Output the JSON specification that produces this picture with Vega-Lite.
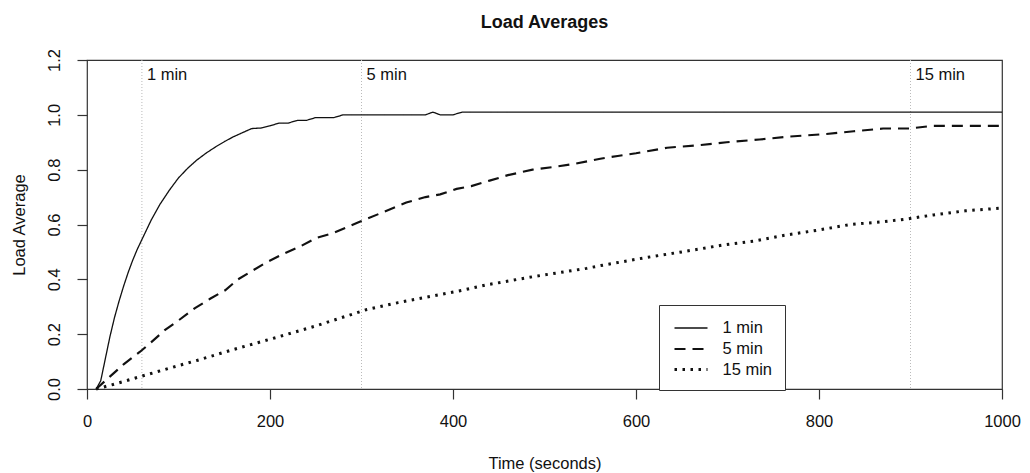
{
  "$schema": "https://vega.github.io/schema/vega-lite/v6.json",
  "width": 915,
  "height": 329,
  "autosize": {"type": "none"},
  "padding": {"left": 87, "top": 60, "right": 28, "bottom": 84},
  "background": "white",
  "config": {
    "font": "Liberation Sans",
    "view": {"stroke": "#333", "strokeWidth": 1.2},
    "axis": {"grid": false, "labelFont": "Liberation Sans", "titleFont": "Liberation Sans", "labelFontSize": 16.5, "titleFontSize": 16.5, "labelColor": "#111", "titleColor": "#111", "titleFontWeight": "normal", "tickColor": "#333", "tickSize": 10, "tickWidth": 1.2, "domain": false}
  },
  "title": {"text": "Load Averages", "fontSize": 18, "fontWeight": "bold", "anchor": "middle", "frame": "group", "offset": 17, "color": "#111", "font": "Liberation Sans"},
  "datasets": {
    "load": [
      {"t": 10, "v": 0, "s": "1 min"}, {"t": 15, "v": 0.03, "s": "1 min"}, {"t": 20, "v": 0.11, "s": "1 min"}, {"t": 25, "v": 0.19, "s": "1 min"}, {"t": 30, "v": 0.26, "s": "1 min"}, {"t": 35, "v": 0.32, "s": "1 min"}, {"t": 40, "v": 0.375, "s": "1 min"}, {"t": 45, "v": 0.425, "s": "1 min"}, {"t": 50, "v": 0.47, "s": "1 min"}, {"t": 55, "v": 0.51, "s": "1 min"}, {"t": 60, "v": 0.545, "s": "1 min"}, {"t": 65, "v": 0.58, "s": "1 min"}, {"t": 70, "v": 0.615, "s": "1 min"}, {"t": 75, "v": 0.645, "s": "1 min"}, {"t": 80, "v": 0.675, "s": "1 min"}, {"t": 90, "v": 0.725, "s": "1 min"}, {"t": 100, "v": 0.77, "s": "1 min"}, {"t": 110, "v": 0.805, "s": "1 min"}, {"t": 120, "v": 0.835, "s": "1 min"}, {"t": 130, "v": 0.86, "s": "1 min"}, {"t": 140, "v": 0.882, "s": "1 min"}, {"t": 150, "v": 0.902, "s": "1 min"}, {"t": 160, "v": 0.92, "s": "1 min"}, {"t": 170, "v": 0.935, "s": "1 min"}, {"t": 180, "v": 0.95, "s": "1 min"}, {"t": 190, "v": 0.952, "s": "1 min"}, {"t": 200, "v": 0.96, "s": "1 min"}, {"t": 210, "v": 0.97, "s": "1 min"}, {"t": 220, "v": 0.97, "s": "1 min"}, {"t": 230, "v": 0.98, "s": "1 min"}, {"t": 240, "v": 0.98, "s": "1 min"}, {"t": 250, "v": 0.99, "s": "1 min"}, {"t": 260, "v": 0.99, "s": "1 min"}, {"t": 270, "v": 0.99, "s": "1 min"}, {"t": 280, "v": 1.0, "s": "1 min"}, {"t": 370, "v": 1.0, "s": "1 min"}, {"t": 378, "v": 1.01, "s": "1 min"}, {"t": 386, "v": 1.0, "s": "1 min"}, {"t": 400, "v": 1.0, "s": "1 min"}, {"t": 410, "v": 1.01, "s": "1 min"}, {"t": 1000, "v": 1.01, "s": "1 min"},
      {"t": 10, "v": 0, "s": "5 min"}, {"t": 25, "v": 0.045, "s": "5 min"}, {"t": 40, "v": 0.09, "s": "5 min"}, {"t": 58, "v": 0.136, "s": "5 min"}, {"t": 70, "v": 0.17, "s": "5 min"}, {"t": 85, "v": 0.215, "s": "5 min"}, {"t": 100, "v": 0.25, "s": "5 min"}, {"t": 118, "v": 0.295, "s": "5 min"}, {"t": 135, "v": 0.33, "s": "5 min"}, {"t": 151, "v": 0.36, "s": "5 min"}, {"t": 165, "v": 0.4, "s": "5 min"}, {"t": 180, "v": 0.43, "s": "5 min"}, {"t": 195, "v": 0.46, "s": "5 min"}, {"t": 213, "v": 0.49, "s": "5 min"}, {"t": 233, "v": 0.52, "s": "5 min"}, {"t": 250, "v": 0.55, "s": "5 min"}, {"t": 270, "v": 0.57, "s": "5 min"}, {"t": 298, "v": 0.61, "s": "5 min"}, {"t": 320, "v": 0.64, "s": "5 min"}, {"t": 349, "v": 0.68, "s": "5 min"}, {"t": 370, "v": 0.7, "s": "5 min"}, {"t": 386, "v": 0.71, "s": "5 min"}, {"t": 404, "v": 0.73, "s": "5 min"}, {"t": 420, "v": 0.74, "s": "5 min"}, {"t": 440, "v": 0.76, "s": "5 min"}, {"t": 460, "v": 0.78, "s": "5 min"}, {"t": 487, "v": 0.8, "s": "5 min"}, {"t": 510, "v": 0.81, "s": "5 min"}, {"t": 531, "v": 0.82, "s": "5 min"}, {"t": 561, "v": 0.84, "s": "5 min"}, {"t": 580, "v": 0.85, "s": "5 min"}, {"t": 600, "v": 0.86, "s": "5 min"}, {"t": 634, "v": 0.88, "s": "5 min"}, {"t": 671, "v": 0.89, "s": "5 min"}, {"t": 699, "v": 0.9, "s": "5 min"}, {"t": 735, "v": 0.91, "s": "5 min"}, {"t": 765, "v": 0.92, "s": "5 min"}, {"t": 808, "v": 0.93, "s": "5 min"}, {"t": 838, "v": 0.94, "s": "5 min"}, {"t": 870, "v": 0.95, "s": "5 min"}, {"t": 899, "v": 0.95, "s": "5 min"}, {"t": 925, "v": 0.96, "s": "5 min"}, {"t": 1000, "v": 0.96, "s": "5 min"},
      {"t": 10, "v": 0, "s": "15 min"}, {"t": 27, "v": 0.015, "s": "15 min"}, {"t": 58, "v": 0.045, "s": "15 min"}, {"t": 89, "v": 0.075, "s": "15 min"}, {"t": 121, "v": 0.105, "s": "15 min"}, {"t": 158, "v": 0.142, "s": "15 min"}, {"t": 209, "v": 0.19, "s": "15 min"}, {"t": 250, "v": 0.23, "s": "15 min"}, {"t": 306, "v": 0.29, "s": "15 min"}, {"t": 340, "v": 0.315, "s": "15 min"}, {"t": 379, "v": 0.34, "s": "15 min"}, {"t": 410, "v": 0.36, "s": "15 min"}, {"t": 437, "v": 0.38, "s": "15 min"}, {"t": 488, "v": 0.41, "s": "15 min"}, {"t": 546, "v": 0.44, "s": "15 min"}, {"t": 561, "v": 0.45, "s": "15 min"}, {"t": 612, "v": 0.48, "s": "15 min"}, {"t": 650, "v": 0.5, "s": "15 min"}, {"t": 695, "v": 0.525, "s": "15 min"}, {"t": 730, "v": 0.54, "s": "15 min"}, {"t": 761, "v": 0.56, "s": "15 min"}, {"t": 800, "v": 0.58, "s": "15 min"}, {"t": 834, "v": 0.6, "s": "15 min"}, {"t": 870, "v": 0.61, "s": "15 min"}, {"t": 896, "v": 0.62, "s": "15 min"}, {"t": 925, "v": 0.635, "s": "15 min"}, {"t": 960, "v": 0.65, "s": "15 min"}, {"t": 1000, "v": 0.66, "s": "15 min"}
    ],
    "marks": [
      {"t": 60, "label": "1 min"}, {"t": 300, "label": "5 min"}, {"t": 900, "label": "15 min"}
    ]
  },
  "layer": [
    {
      "data": {"name": "marks"},
      "mark": {"type": "rule", "color": "#bbbbbb", "strokeWidth": 1, "strokeDash": [1, 2]},
      "encoding": {
        "x": {"field": "t", "type": "quantitative", "scale": {"domain": [0, 1000], "nice": false, "zero": false}}
      }
    },
    {
      "data": {"name": "marks"},
      "mark": {"type": "text", "align": "left", "baseline": "middle", "dx": 5, "fontSize": 16.5, "color": "#111", "font": "Liberation Sans"},
      "encoding": {
        "x": {"field": "t", "type": "quantitative"},
        "y": {"datum": 1.145, "type": "quantitative"},
        "text": {"field": "label"}
      }
    },
    {
      "data": {"name": "load"},
      "mark": {"type": "line", "color": "#111", "strokeCap": "butt", "interpolate": "linear"},
      "encoding": {
        "x": {"field": "t", "type": "quantitative", "title": "Time (seconds)", "scale": {"domain": [0, 1000], "nice": false, "zero": false},
          "axis": {"values": [0, 200, 400, 600, 800, 1000], "format": "d", "labelPadding": 14, "titlePadding": 26, "labelFlush": false, "labelOverlap": false}},
        "y": {"field": "v", "type": "quantitative", "title": "Load Average", "scale": {"domain": [0, 1.2], "nice": false},
          "axis": {"values": [0, 0.2, 0.4, 0.6, 0.8, 1.0, 1.2], "format": ".1f", "labelAngle": 270, "labelPadding": 15, "titlePadding": 19, "labelFlush": false, "labelOverlap": false}},
        "detail": {"field": "s"},
        "strokeDash": {"field": "s", "type": "nominal", "title": null,
          "scale": {"domain": ["1 min", "5 min", "15 min"], "range": [[1, 0], [11, 7], [2.5, 5.5]]},
          "legend": {"orient": "none", "legendX": 572, "legendY": 245, "strokeColor": "#333", "padding": 12, "symbolType": "M-1.65,0H1.65", "symbolSize": 400, "symbolStrokeColor": "#111", "symbolStrokeWidth": 2.5, "symbolFillColor": "transparent", "labelFontSize": 16.5, "labelColor": "#111", "labelFont": "Liberation Sans", "labelOffset": 20, "rowPadding": 0.5, "fillColor": "white", "symbolOffset": 8.5}},
        "strokeWidth": {"field": "s", "type": "ordinal", "scale": {"domain": ["1 min", "5 min", "15 min"], "range": [1.3, 3, 3]}, "legend": null}
      }
    }
  ]
}
